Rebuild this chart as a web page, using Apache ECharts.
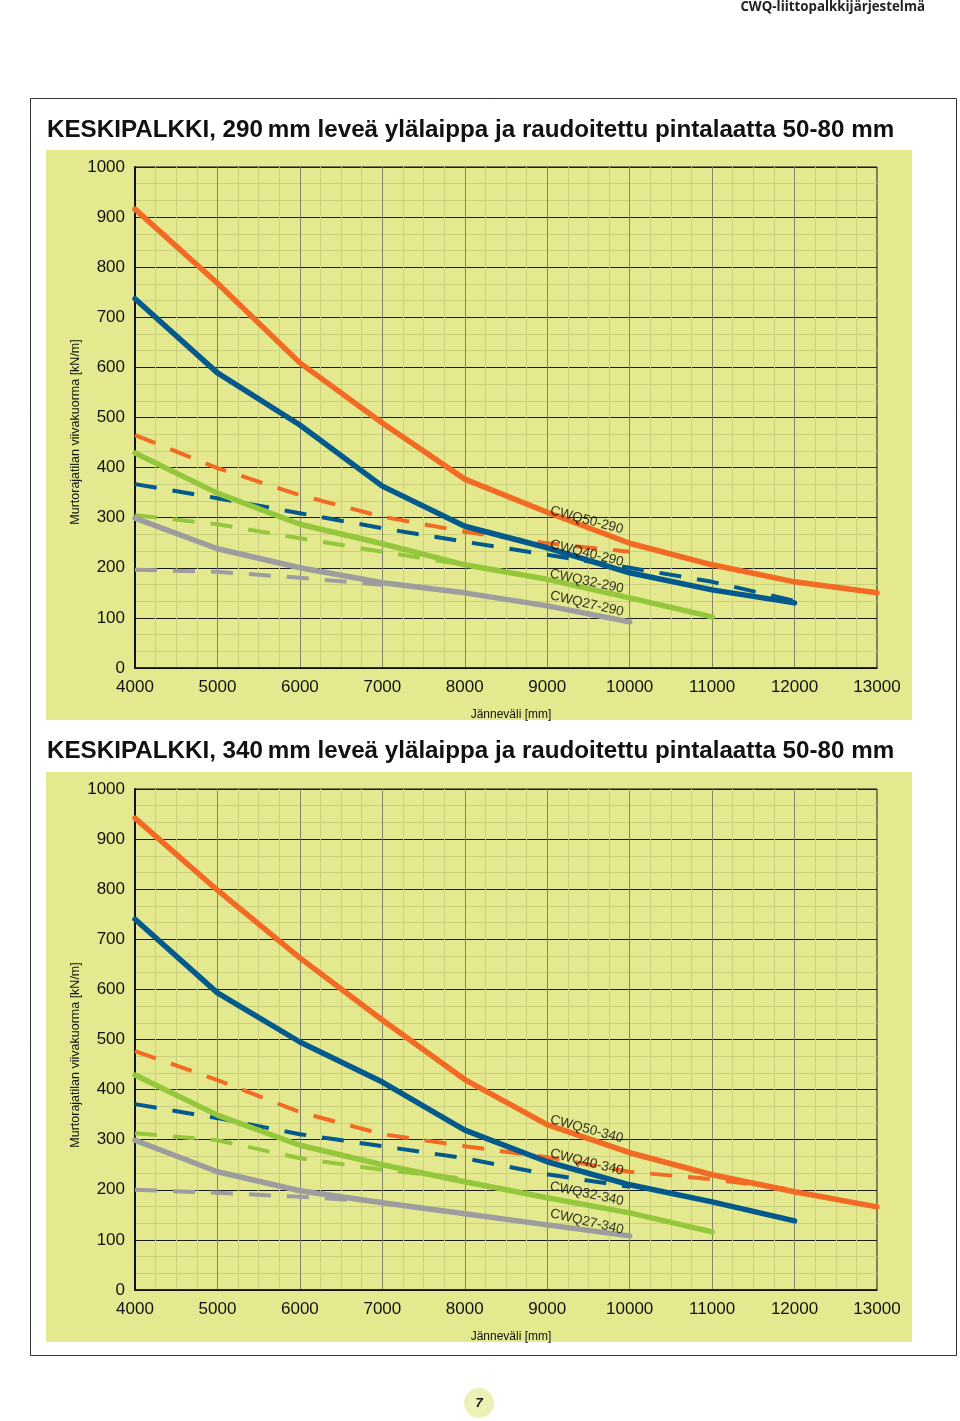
<!DOCTYPE html>
<html><head><meta charset="utf-8">
<script src="https://cdn.jsdelivr.net/npm/echarts@6/dist/echarts.min.js"></script>
<style>html,body{margin:0;padding:0;background:#fff}#c{width:960px;height:1421px}</style>
</head><body><div id="c"></div>
<script>
const spans = [4000, 5000, 6000, 7000, 8000, 9000, 10000, 11000, 12000, 13000];
const xTicks = [4000, 5000, 6000, 7000, 8000, 9000, 10000, 11000, 12000, 13000];
const yTicks = [0, 100, 200, 300, 400, 500, 600, 700, 800, 900, 1000];

// Chart 1: 290 mm
const q50_290 = [916, 768, 609, 489, 377, 311, 249, 206, 172, 150];
const q40_290 = [737, 589, 485, 363, 283, 240, 190, 156, 130];
const q32_290 = [429, 349, 287, 248, 206, 177, 140, 102];
const q27_290 = [299, 238, 200, 170, 150, 124, 92];
const d50_290 = [465, 399, 345, 302, 272, 249, 232];
const d40_290 = [367, 339, 309, 279, 252, 226, 200, 172, 134];
const d32_290 = [305, 287, 259, 232, 206];
const d27_290 = [196, 192, 180, 166];

// Chart 2: 340 mm
const q50_340 = [942, 798, 663, 539, 420, 330, 274, 230, 196, 166];
const q40_340 = [740, 593, 495, 415, 319, 256, 210, 176, 138];
const q32_340 = [429, 349, 289, 250, 216, 184, 154, 116];
const q27_340 = [299, 236, 198, 174, 152, 130, 108];
const d50_340 = [477, 419, 355, 311, 287, 265, 236, 221, 200];
const d40_340 = [371, 343, 311, 287, 263, 231, 206];
const d32_340 = [313, 299, 263, 240, 222];
const d27_340 = [200, 194, 186, 176];

const names290 = ['CWQ50-290', 'CWQ40-290', 'CWQ32-290', 'CWQ27-290'];
const names340 = ['CWQ50-340', 'CWQ40-340', 'CWQ32-340', 'CWQ27-340'];
const labelX = [9480, 9480, 9480, 9480];
const labelY290 = [295, 229, 173, 128];
const labelY340 = [321, 255, 192, 136];
const labelRot = [-15, -14, -12, -13];

const titles = ['KESKIPALKKI, 290\u2009mm leveä ylälaippa ja raudoitettu pintalaatta 50-80 mm',
                'KESKIPALKKI, 340\u2009mm leveä ylälaippa ja raudoitettu pintalaatta 50-80 mm'];
const header = 'CWQ-liittopalkkijärjestelmä';
const yName = 'Murtorajatilan viivakuorma [kN/m]';
const xName = 'Jänneväli [mm]';
const pageNo = '7';

const C = { orange: '#f26a23', blue: '#04598c', green: '#95c73d', gray: '#9d9d9f' };
const FONT = '"Liberation Sans", Arial, sans-serif';

function pts(vals) { return vals.map((v, i) => [spans[i], v]); }

function lineSeries(vals, color, dashed, gi) {
  return {
    type: 'line', xAxisIndex: gi, yAxisIndex: gi, data: pts(vals),
    symbol: 'none', smooth: false, silent: true, z: dashed ? 2 : 3,
    lineStyle: dashed ? { color, width: 4, type: [22, 16], cap: 'butt' }
                      : { color, width: 5.5, cap: 'round', join: 'round' }
  };
}

function labelSeries(names, ys, gi) {
  return names.map((n, i) => ({
    type: 'scatter', xAxisIndex: gi, yAxisIndex: gi, symbolSize: 0, silent: true, z: 5,
    data: [[labelX[i], ys[i]]],
    label: { show: true, position: 'inside', formatter: n, rotate: labelRot[i],
             fontSize: 13.5, color: '#000', fontFamily: FONT }
  }));
}

const tops = [167, 789];
const grids = tops.map(t => ({ left: 135, top: t, width: 742, height: 501, show: true,
  borderColor: '#111', borderWidth: 1, backgroundColor: 'transparent' }));

const xAxes = [0, 1].map(i => ({
  gridIndex: i, type: 'value', min: xTicks[0], max: xTicks[xTicks.length - 1], interval: 1000,
  axisLine: { lineStyle: { color: '#111', width: 1.5 } }, axisTick: { show: false },
  axisLabel: { color: '#111', fontSize: 17, margin: 11, fontFamily: FONT, formatter: v => String(v) },
  splitLine: { lineStyle: { color: '#85856a', width: 1 } },
  minorTick: { show: false, splitNumber: 4 },
  minorSplitLine: { show: true, lineStyle: { color: '#cbd07c', width: 1 } },
  name: xName, nameLocation: 'middle', nameGap: 41,
  nameTextStyle: { color: '#111', fontSize: 12, fontFamily: FONT, padding: [0, 0, 0, 10] }
}));

const yAxes = [0, 1].map(i => ({
  gridIndex: i, type: 'value', min: yTicks[0], max: yTicks[yTicks.length - 1], interval: 100,
  axisLine: { show: true, lineStyle: { color: '#111', width: 2 } }, axisTick: { show: false },
  axisLabel: { color: '#111', fontSize: 17, margin: 10, fontFamily: FONT, formatter: v => String(v) },
  splitLine: { lineStyle: { color: '#1a1a1a', width: 1 } },
  minorTick: { show: false, splitNumber: 3 },
  minorSplitLine: { show: true, lineStyle: { color: '#cbd07c', width: 1 } }
}));

const series = [
  lineSeries(d50_290, C.orange, true, 0), lineSeries(d40_290, C.blue, true, 0),
  lineSeries(d32_290, C.green, true, 0), lineSeries(d27_290, C.gray, true, 0),
  lineSeries(q27_290, C.gray, false, 0), lineSeries(q32_290, C.green, false, 0),
  lineSeries(q40_290, C.blue, false, 0), lineSeries(q50_290, C.orange, false, 0),
  lineSeries(d50_340, C.orange, true, 1), lineSeries(d40_340, C.blue, true, 1),
  lineSeries(d32_340, C.green, true, 1), lineSeries(d27_340, C.gray, true, 1),
  lineSeries(q27_340, C.gray, false, 1), lineSeries(q32_340, C.green, false, 1),
  lineSeries(q40_340, C.blue, false, 1), lineSeries(q50_340, C.orange, false, 1),
  ...labelSeries(names290, labelY290, 0),
  ...labelSeries(names340, labelY340, 1)
];

const graphic = [
  { type: 'rect', z: -10, shape: { x: 30.5, y: 98.5, width: 926, height: 1257 },
    style: { fill: '#fff', stroke: '#333', lineWidth: 1 } },
  { type: 'rect', z: -9, shape: { x: 46, y: 150, width: 866, height: 570 }, style: { fill: '#e4e98f' } },
  { type: 'rect', z: -9, shape: { x: 46, y: 772, width: 866, height: 570 }, style: { fill: '#e4e98f' } },
  { type: 'text', z: 10, x: 925, y: 7, style: { text: header, align: 'right', verticalAlign: 'middle',
    fill: '#222', font: 'bold 13.3px "Open Sans", "DejaVu Sans", sans-serif' } },
  { type: 'text', z: 10, x: 47, y: 130, style: { text: titles[0], verticalAlign: 'middle',
    fill: '#111', font: 'bold 24.2px "Liberation Sans", Arial, sans-serif' } },
  { type: 'text', z: 10, x: 47, y: 751, style: { text: titles[1], verticalAlign: 'middle',
    fill: '#111', font: 'bold 24.2px "Liberation Sans", Arial, sans-serif' } },
  { type: 'text', z: 10, x: 76, y: 432, rotation: Math.PI / 2, style: { text: yName, align: 'center',
    verticalAlign: 'middle', fill: '#111', font: '12.5px "Liberation Sans", Arial, sans-serif' } },
  { type: 'text', z: 10, x: 76, y: 1055, rotation: Math.PI / 2, style: { text: yName, align: 'center',
    verticalAlign: 'middle', fill: '#111', font: '12.5px "Liberation Sans", Arial, sans-serif' } },
  { type: 'circle', z: 10, shape: { cx: 479, cy: 1403, r: 15 }, style: { fill: '#eef1b6' } },
  { type: 'text', z: 11, x: 479, y: 1403, style: { text: pageNo, align: 'center', verticalAlign: 'middle',
    fill: '#111', font: 'italic bold 13px "Liberation Sans", Arial, sans-serif' } }
];

const chart = echarts.init(document.getElementById('c'), null, { renderer: 'canvas' });
chart.setOption({ animation: false, backgroundColor: '#fff', graphic, grid: grids,
  xAxis: xAxes, yAxis: yAxes, series });
</script></body></html>
